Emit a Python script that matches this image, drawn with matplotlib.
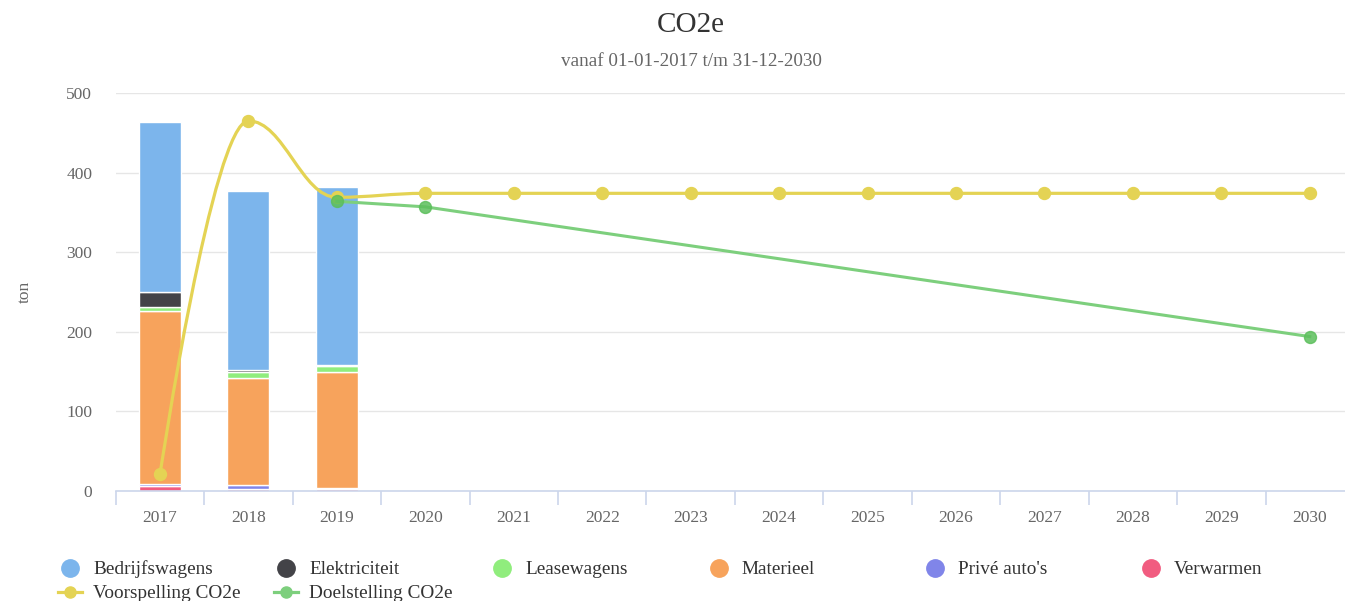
import numpy as np
import matplotlib
matplotlib.use("Agg")
import matplotlib.pyplot as plt
from matplotlib.path import Path
from matplotlib.patches import PathPatch
from matplotlib.lines import Line2D

plt.rcParams['font.family'] = ['Liberation Serif', 'DejaVu Serif']

years = [str(y) for y in range(2017, 2031)]

# stacked bar series (ton), only 2017-2019 have values
bedrijfswagens = [213, 225, 224] + [0] * 11
elektriciteit = [19, 3, 1] + [0] * 11
leasewagens = [5, 7, 7] + [0] * 11
materieel = [217, 135, 146] + [0] * 11
prive_autos = [3, 4, 1] + [0] * 11
verwarmen = [6, 3, 3] + [0] * 11

voorspelling = [21, 465, 369] + [374] * 11
doel_years = ['2019', '2020', '2030']
doelstelling = [364, 357, 194]

series = [
    ("Bedrijfswagens", bedrijfswagens, "#7cb5ec"),
    ("Elektriciteit", elektriciteit, "#434348"),
    ("Leasewagens", leasewagens, "#90ed7d"),
    ("Materieel", materieel, "#f7a35c"),
    ("Privé auto's", prive_autos, "#8085e9"),
    ("Verwarmen", verwarmen, "#f15c80"),
]
yellow = "#e4d354"
green = "#7dcf7d"


def hc_spline(xs, ys, smoothing=1.5):
    # highcharts style bezier spline through the points
    denom = smoothing + 1
    verts = [(xs[0], ys[0])]
    codes = [Path.MOVETO]
    n = len(xs)
    ctrl = []
    for i in range(n):
        px, py = xs[i], ys[i]
        if 0 < i < n - 1:
            lx, ly = xs[i - 1], ys[i - 1]
            nx, ny = xs[i + 1], ys[i + 1]
            lcx = (smoothing * px + lx) / denom
            lcy = (smoothing * py + ly) / denom
            rcx = (smoothing * px + nx) / denom
            rcy = (smoothing * py + ny) / denom
            if rcx != lcx:
                corr = (rcy - lcy) * (rcx - px) / (rcx - lcx) + py - rcy
                lcy += corr
                rcy += corr
            if lcy > ly and lcy > py:
                lcy = max(ly, py)
                rcy = 2 * py - lcy
            elif lcy < ly and lcy < py:
                lcy = min(ly, py)
                rcy = 2 * py - lcy
            if rcy > ny and rcy > py:
                rcy = max(ny, py)
                lcy = 2 * py - rcy
            elif rcy < ny and rcy < py:
                rcy = min(ny, py)
                lcy = 2 * py - rcy
            ctrl.append(((lcx, lcy), (rcx, rcy)))
        else:
            ctrl.append(((px, py), (px, py)))
    for i in range(1, n):
        verts += [ctrl[i - 1][1], ctrl[i][0], (xs[i], ys[i])]
        codes += [Path.CURVE4] * 3
    return Path(verts, codes)


fig = plt.figure(figsize=(13.45, 6.01), dpi=100)
ax = fig.add_axes([0.0861, 0.183, 0.9206, 0.6622])

x = np.arange(len(years))
bottom = np.zeros(len(years))
for name, vals, col in reversed(series):
    v = np.array(vals, dtype=float)
    ax.bar(x, v, 0.475, bottom=bottom, color=col, edgecolor='white',
           linewidth=1, zorder=2)
    bottom += v

path = hc_spline(list(x), voorspelling)
ax.add_patch(PathPatch(path, facecolor='none', edgecolor=yellow, lw=2.3, zorder=3))
ax.plot(x, voorspelling, 'o', color=yellow, ms=8.6, zorder=4)

dx = [years.index(y) for y in doel_years]
ax.plot(dx, doelstelling, '-', color=green, lw=2.2, zorder=5)
ax.plot(dx, doelstelling, 'o', color='#5cbf5c', alpha=0.85, ms=8.6, zorder=6)

ax.set_xlim(-0.5, len(years) - 0.5)
ax.set_ylim(0, 500)
ax.set_yticks(range(0, 501, 100))
ax.grid(axis='y', color='#e6e6e6', lw=1, zorder=0)
ax.set_axisbelow(True)
for s in ['top', 'right', 'left']:
    ax.spines[s].set_visible(False)
ax.spines['bottom'].set_color('#ccd6eb')
ax.spines['bottom'].set_linewidth(1.2)
ax.set_xticks(x)
ax.set_xticklabels(years)
ax.set_xticks(np.arange(-0.5, len(years), 1), minor=True)
ax.tick_params(axis='x', which='major', length=0, pad=14, labelsize=12.5, colors='#666666')
ax.tick_params(axis='x', which='minor', length=10, color='#ccd6eb', width=1.2)
ax.tick_params(axis='y', length=0, pad=17, labelsize=12.5, colors='#666666')
ax.set_ylabel('ton', fontsize=12.5, color='#666666', labelpad=24)

fig.text(691 / 1345, 1 - 25 / 601, 'CO2e', ha='center', va='center', fontsize=21, color='#333333')
fig.text(691 / 1345, 1 - 62 / 601, 'vanaf 01-01-2017 t/m 31-12-2030', ha='center', va='center',
         fontsize=13.8, color='#666666')

# legend
W, H = 1345, 601
for i, (name, vals, col) in enumerate(series):
    mx = 70 + i * 216.2
    fig.add_artist(Line2D([mx / W], [1 - 568 / H], marker='o', ms=12.5, color=col,
                          transform=fig.transFigure))
    fig.text((mx + 23) / W, 1 - 569 / H, name, va='center', fontsize=13.9, color='#333333')
for i, (name, col) in enumerate([("Voorspelling CO2e", yellow), ("Doelstelling CO2e", green)]):
    mx = 70 + i * 216.2
    fig.add_artist(Line2D([(mx - 12) / W, (mx + 12) / W], [1 - 592 / H] * 2, lw=2.3,
                          color=col, transform=fig.transFigure))
    fig.add_artist(Line2D([mx / W], [1 - 592 / H], marker='o', ms=8, color=col,
                          transform=fig.transFigure))
    fig.text((mx + 23) / W, 1 - 593 / H, name, va='center', fontsize=13.9, color='#333333')

fig.savefig('out.png', dpi=100)
